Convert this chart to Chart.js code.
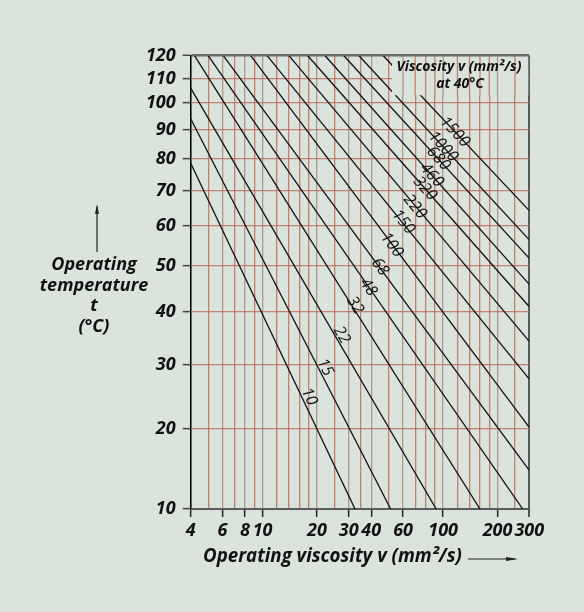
<!DOCTYPE html>
<html>
<head>
<meta charset="utf-8">
<script src="https://cdn.jsdelivr.net/npm/chart.js@4.4.1/dist/chart.umd.min.js"></script>
<style>
  html, body { margin: 0; padding: 0; background: #ffffff; }
  #wrap { position: absolute; left: 0; top: 0; width: 584px; height: 612px; background: #dbe3dd; }
</style>
</head>
<body>
<div id="wrap"><canvas id="chart" width="584" height="612"></canvas></div>
<script>
// viscosity grades (mm2/s at 40 C)
const grades = [10, 15, 22, 32, 48, 68, 100, 150, 220, 320, 460, 680, 1000, 1500];
// where each grade line enters and leaves the plot, [viscosity, temperature]
const lineStart = [[4, 78.5], [4, 94], [4, 106], [4.2, 120], [5.0, 120], [6.06, 120], [8.6, 120], [10.6, 120],
                   [14.0, 120], [17.8, 120], [22.2, 120], [28.2, 120], [34.2, 120], [46.6, 120]];
const lineEnd = [[32.5, 10], [51.2, 10], [91.5, 10], [160, 10], [276, 10], [300, 14.5], [300, 20.2], [300, 27.6],
                 [300, 34.2], [300, 41.0], [300, 45.8], [300, 51.8], [300, 56.4], [300, 64.2]];
// where the grade number is written, [viscosity, temperature]
const labelPos = [[18.1, 24.8], [22.2, 29.6], [27.4, 35.4], [32.5, 41.3], [38.5, 45.2], [44.7, 49.8], [51.9, 55.1],
                  [60.2, 61.1], [69.8, 65.3], [79.3, 70.6], [86.4, 74.7], [94, 80.1], [100, 84.0], [116, 89.2]];

const xTicks = [4, 6, 8, 10, 20, 30, 40, 60, 100, 200, 300];
const xMinor = [5, 7, 9, 12, 14, 16, 18, 25, 35, 50, 70, 80, 90, 120, 140, 160, 180, 250];
const yTicks = [10, 20, 30, 40, 50, 60, 70, 80, 90, 100, 110, 120];

const BG = '#dbe3dd';
const RED = 'rgba(190, 110, 90, 0.85)';
const GREY = 'rgba(165, 140, 130, 0.85)';
const FONT = "'Open Sans', 'Liberation Sans', sans-serif";

// temperature axis: spacing follows log(t + 25)
const T_SHIFT = 25;
class TemperatureScale extends Chart.LinearScale {
    getPixelForValue(value) {
        const lo = Math.log(this.min + T_SHIFT), hi = Math.log(this.max + T_SHIFT);
        return this.getPixelForDecimal((Math.log(value + T_SHIFT) - lo) / (hi - lo));
    }
    getValueForPixel(pixel) {
        const lo = Math.log(this.min + T_SHIFT), hi = Math.log(this.max + T_SHIFT);
        return Math.exp(lo + this.getDecimalForPixel(pixel) * (hi - lo)) - T_SHIFT;
    }
}
TemperatureScale.id = 'temperature';
TemperatureScale.defaults = {};
Chart.register(TemperatureScale);

function xGridColor(v) {
    if (v === 300) return '#5a5a5a';
    return xTicks.includes(v) ? GREY : RED;
}

const datasets = grades.map((g, i) => ({
    label: String(g),
    data: [{ x: lineStart[i][0], y: lineStart[i][1] }, { x: lineEnd[i][0], y: lineEnd[i][1] }],
    showLine: true,
    borderColor: '#111111',
    borderWidth: 1.3,
    pointRadius: 0
}));

const decorations = {
    id: 'decorations',
    afterDatasetsDraw(chart) {
        const ctx = chart.ctx;
        const x = chart.scales.x, y = chart.scales.y;
        const area = chart.chartArea;
        ctx.save();
        ctx.fillStyle = '#111111';
        ctx.textAlign = 'center';
        ctx.textBaseline = 'middle';
        ctx.font = 'italic 16px ' + FONT;
        grades.forEach((g, i) => {
            const x0 = x.getPixelForValue(lineStart[i][0]), y0 = y.getPixelForValue(lineStart[i][1]);
            const x1 = x.getPixelForValue(lineEnd[i][0]), y1 = y.getPixelForValue(lineEnd[i][1]);
            const px = x.getPixelForValue(labelPos[i][0]), py = y.getPixelForValue(labelPos[i][1]);
            ctx.save();
            ctx.translate(px, py);
            ctx.rotate(Math.atan2(y1 - y0, x1 - x0));
            ctx.fillText(String(g), 0, 0);
            ctx.restore();
        });

        // box note, top right: blank out lines behind it, keep vertical grid
        const bx = 392, by = area.top + 1.5, bw = area.right - 1 - bx, bh = 38;
        ctx.fillStyle = BG;
        ctx.fillRect(bx, by, bw, bh);
        ctx.lineWidth = 1.3;
        x.ticks.forEach(t => {
            const px = x.getPixelForValue(t.value);
            if (px <= bx || px >= bx + bw) return;
            ctx.strokeStyle = xGridColor(t.value);
            ctx.beginPath();
            ctx.moveTo(px, by);
            ctx.lineTo(px, by + bh);
            ctx.stroke();
        });
        ctx.fillStyle = '#111111';
        ctx.font = 'italic bold 14px ' + FONT;
        ctx.fillText('Viscosity v (mm\u00b2/s)', 459, 67);
        ctx.fillText('at 40\u00b0C', 460, 84);

        // axis titles
        ctx.font = 'italic bold 18px ' + FONT;
        ctx.fillText('Operating', 94, 265);
        ctx.fillText('temperature', 94, 286);
        ctx.fillText('t', 94, 306);
        ctx.fillText('(\u00b0C)', 94, 327);
        ctx.font = 'italic bold 18.7px ' + FONT;
        ctx.textAlign = 'left';
        ctx.fillText('Operating viscosity v (mm\u00b2/s)', 203, 557);

        // arrows
        ctx.strokeStyle = '#222222';
        ctx.lineWidth = 1.2;
        ctx.beginPath();
        ctx.moveTo(97, 252); ctx.lineTo(97, 207);
        ctx.moveTo(468, 559); ctx.lineTo(515, 559);
        ctx.stroke();
        ctx.beginPath();
        ctx.moveTo(97, 204); ctx.lineTo(95, 214); ctx.lineTo(99, 214); ctx.closePath();
        ctx.moveTo(518, 559); ctx.lineTo(506, 557); ctx.lineTo(506, 561); ctx.closePath();
        ctx.fillStyle = '#222222';
        ctx.fill();
        ctx.restore();
    }
};

new Chart(document.getElementById('chart'), {
    type: 'scatter',
    data: { datasets: datasets },
    options: {
        responsive: false,
        devicePixelRatio: 1,
        animation: false,
        layout: { padding: { left: 0, right: 54.7, top: 55.7, bottom: 0 } },
        plugins: { legend: { display: false }, tooltip: { enabled: false } },
        scales: {
            x: {
                type: 'logarithmic',
                min: 4,
                max: 300,
                afterBuildTicks: s => {
                    s.ticks = xTicks.concat(xMinor).sort((a, b) => a - b).map(v => ({ value: v }));
                },
                afterFit: s => { s.height = 103; },
                border: { color: '#5a5a5a', width: 2 },
                grid: {
                    color: c => xGridColor(c.tick.value),
                    lineWidth: c => c.tick.value === 300 ? 2 : 1.3,
                    tickColor: c => xTicks.includes(c.tick.value) ? '#222222' : 'rgba(0,0,0,0)',
                    tickLength: 8,
                    tickWidth: 1.5
                },
                ticks: {
                    autoSkip: false,
                    maxRotation: 0,
                    padding: 3,
                    color: '#111111',
                    font: { family: FONT, size: 18, style: 'italic', weight: 'bold' },
                    callback: v => xTicks.includes(v) ? String(v) : ''
                }
            },
            y: {
                type: 'temperature',
                min: 10,
                max: 120,
                afterBuildTicks: s => { s.ticks = yTicks.map(v => ({ value: v })); },
                afterFit: s => { s.width = 190.7; },
                border: { color: '#000000', width: 1.5 },
                grid: {
                    color: c => c.tick.value === 120 ? '#6a6a6a' : RED,
                    lineWidth: c => c.tick.value === 120 ? 2.5 : 1.3,
                    tickColor: '#444444',
                    tickLength: 8,
                    tickWidth: 1.5
                },
                ticks: {
                    padding: 7,
                    color: '#111111',
                    font: { family: FONT, size: 18, style: 'italic', weight: 'bold' },
                    callback: v => String(v)
                }
            }
        }
    },
    plugins: [decorations]
});
</script>
</body>
</html>
